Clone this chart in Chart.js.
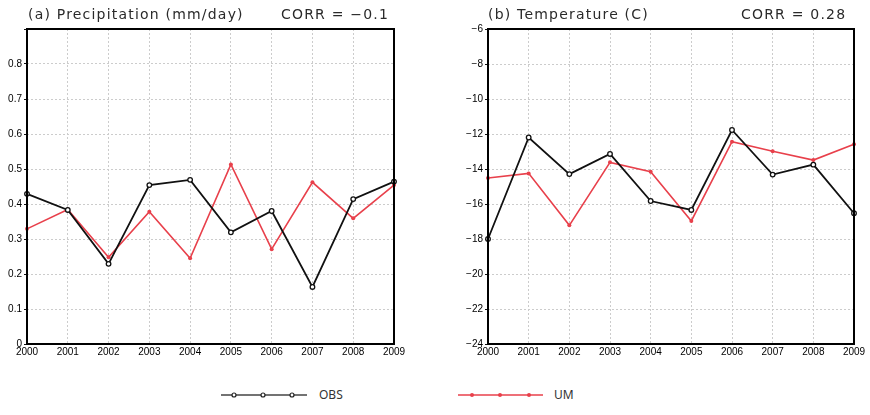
<!DOCTYPE html>
<html><head><meta charset="utf-8">
<script src="https://cdn.jsdelivr.net/npm/chart.js@4"></script>
<style>
body{margin:0;background:#fff;width:870px;height:415px;position:relative;overflow:hidden;font-family:"DejaVu Sans",sans-serif;}
.c{position:absolute;}
.t{position:absolute;font-family:"DejaVu Sans",sans-serif;font-size:14px;color:#2a2a2a;white-space:nowrap;line-height:16px;letter-spacing:1.2px;}
.lg{position:absolute;font-family:"Noto Sans","DejaVu Sans",sans-serif;font-size:12px;color:#333;line-height:14px;}
</style></head><body>
<div class="c" style="left:0;top:0;width:409px;height:362px;"><canvas id="c1" width="409" height="362"></canvas></div>
<div class="c" style="left:450px;top:0;width:418px;height:362px;"><canvas id="c2" width="418" height="362"></canvas></div>
<div class="t" style="left:28px;top:6px;">(a) Precipitation (mm/day)</div>
<div class="t" style="left:281px;top:6px;">CORR = &minus;0.1</div>
<div class="t" style="left:488px;top:6px;">(b) Temperature (C)</div>
<div class="t" style="left:741px;top:6px;">CORR = 0.28</div>
<svg class="c" style="left:215px;top:388px;" width="100" height="14">
 <line x1="6" y1="7" x2="92" y2="7" stroke="#444" stroke-width="1.6"/>
 <circle cx="19" cy="7" r="2" fill="#fff" stroke="#222" stroke-width="1.2"/>
 <circle cx="48" cy="7" r="2" fill="#fff" stroke="#222" stroke-width="1.2"/>
 <circle cx="77" cy="7" r="2" fill="#fff" stroke="#222" stroke-width="1.2"/>
</svg>
<div class="lg" style="left:319px;top:388px;">OBS</div>
<svg class="c" style="left:452px;top:388px;" width="100" height="14">
 <line x1="6" y1="7" x2="91" y2="7" stroke="#e8404b" stroke-width="1.6"/>
 <circle cx="20" cy="7" r="2" fill="#e8404b"/>
 <circle cx="48" cy="7" r="2" fill="#e8404b"/>
 <circle cx="77" cy="7" r="2" fill="#e8404b"/>
</svg>
<div class="lg" style="left:554px;top:388px;">UM</div>
<script>
const years = ['2000','2001','2002','2003','2004','2005','2006','2007','2008','2009'];
const precipOBS = [0.429,0.383,0.229,0.454,0.469,0.319,0.380,0.163,0.414,0.464];
const precipUM  = [0.329,0.384,0.248,0.378,0.245,0.513,0.271,0.462,0.359,0.454];
const tempOBS = [-18.0,-12.2,-14.29,-13.14,-15.83,-16.34,-11.77,-14.32,-13.75,-16.53];
const tempUM  = [-14.51,-14.25,-17.22,-13.62,-14.15,-16.97,-12.44,-12.99,-13.49,-12.59];
const precipTicks = {min:0, max:0.9, step:0.1};
const tempTicks = {min:-24, max:-6, step:2};

const RED = '#e8404b';
const tickFont = {family:'"Liberation Sans Narrow","Liberation Sans",sans-serif', size:10};

const framePlugin = {
  id:'frame',
  afterDatasetsDraw(chart){
    const a = chart.chartArea, ctx = chart.ctx;
    ctx.save();
    ctx.strokeStyle = '#000';
    ctx.lineWidth = 2;
    ctx.strokeRect(a.left, a.top, a.right - a.left, a.bottom - a.top);
    ctx.restore();
  }
};

function makeChart(id, obs, um, tk, yWidth, padRight, hideTop, decimals){
  return new Chart(document.getElementById(id), {
    type:'line',
    data:{
      labels: years,
      datasets:[
        {label:'OBS', data:obs, borderColor:'#111', borderWidth:1.8, pointRadius:2.3,
         pointBackgroundColor:'#fff', pointBorderColor:'#111', pointBorderWidth:1.3, tension:0},
        {label:'UM', data:um, borderColor:RED, borderWidth:1.6, pointRadius:2,
         pointBackgroundColor:RED, pointBorderColor:RED, pointBorderWidth:0, tension:0}
      ]
    },
    plugins:[framePlugin],
    options:{
      responsive:false, animation:false, devicePixelRatio:1,
      layout:{padding:{top:29, right:padRight, left:0, bottom:2}},
      plugins:{legend:{display:false}, tooltip:{enabled:false}, title:{display:false}},
      scales:{
        x:{
          offset:false,
          grid:{color:'#cccccc', lineWidth:1, drawTicks:false},
          border:{display:false, dash:[2,2]},
          ticks:{color:'#000', font:tickFont, padding:2, maxRotation:0, autoSkip:false},
          afterFit(s){ s.height = 16; }
        },
        y:{
          min:tk.min, max:tk.max,
          grid:{color:'#cccccc', lineWidth:1, drawTicks:true, tickLength:3, tickColor:'#111'},
          border:{display:false, dash:[2,2]},
          ticks:{stepSize:tk.step, color:'#000', font:tickFont, padding:2,
            callback(v){
              if (hideTop && Math.abs(v - tk.max) < 1e-9) return '';
              if (Math.abs(v) < 1e-9) return '0';
              const s = decimals ? Math.abs(v).toFixed(decimals) : String(Math.round(Math.abs(v)));
              return v < 0 ? '\u2212' + s : s;
            }},
          afterFit(s){ s.width = yWidth; }
        }
      }
    }
  });
}
makeChart('c1', precipOBS, precipUM, precipTicks, 27, 15, true, 1);
makeChart('c2', tempOBS, tempUM, tempTicks, 38, 14, false, 0);
</script>
</body></html>
